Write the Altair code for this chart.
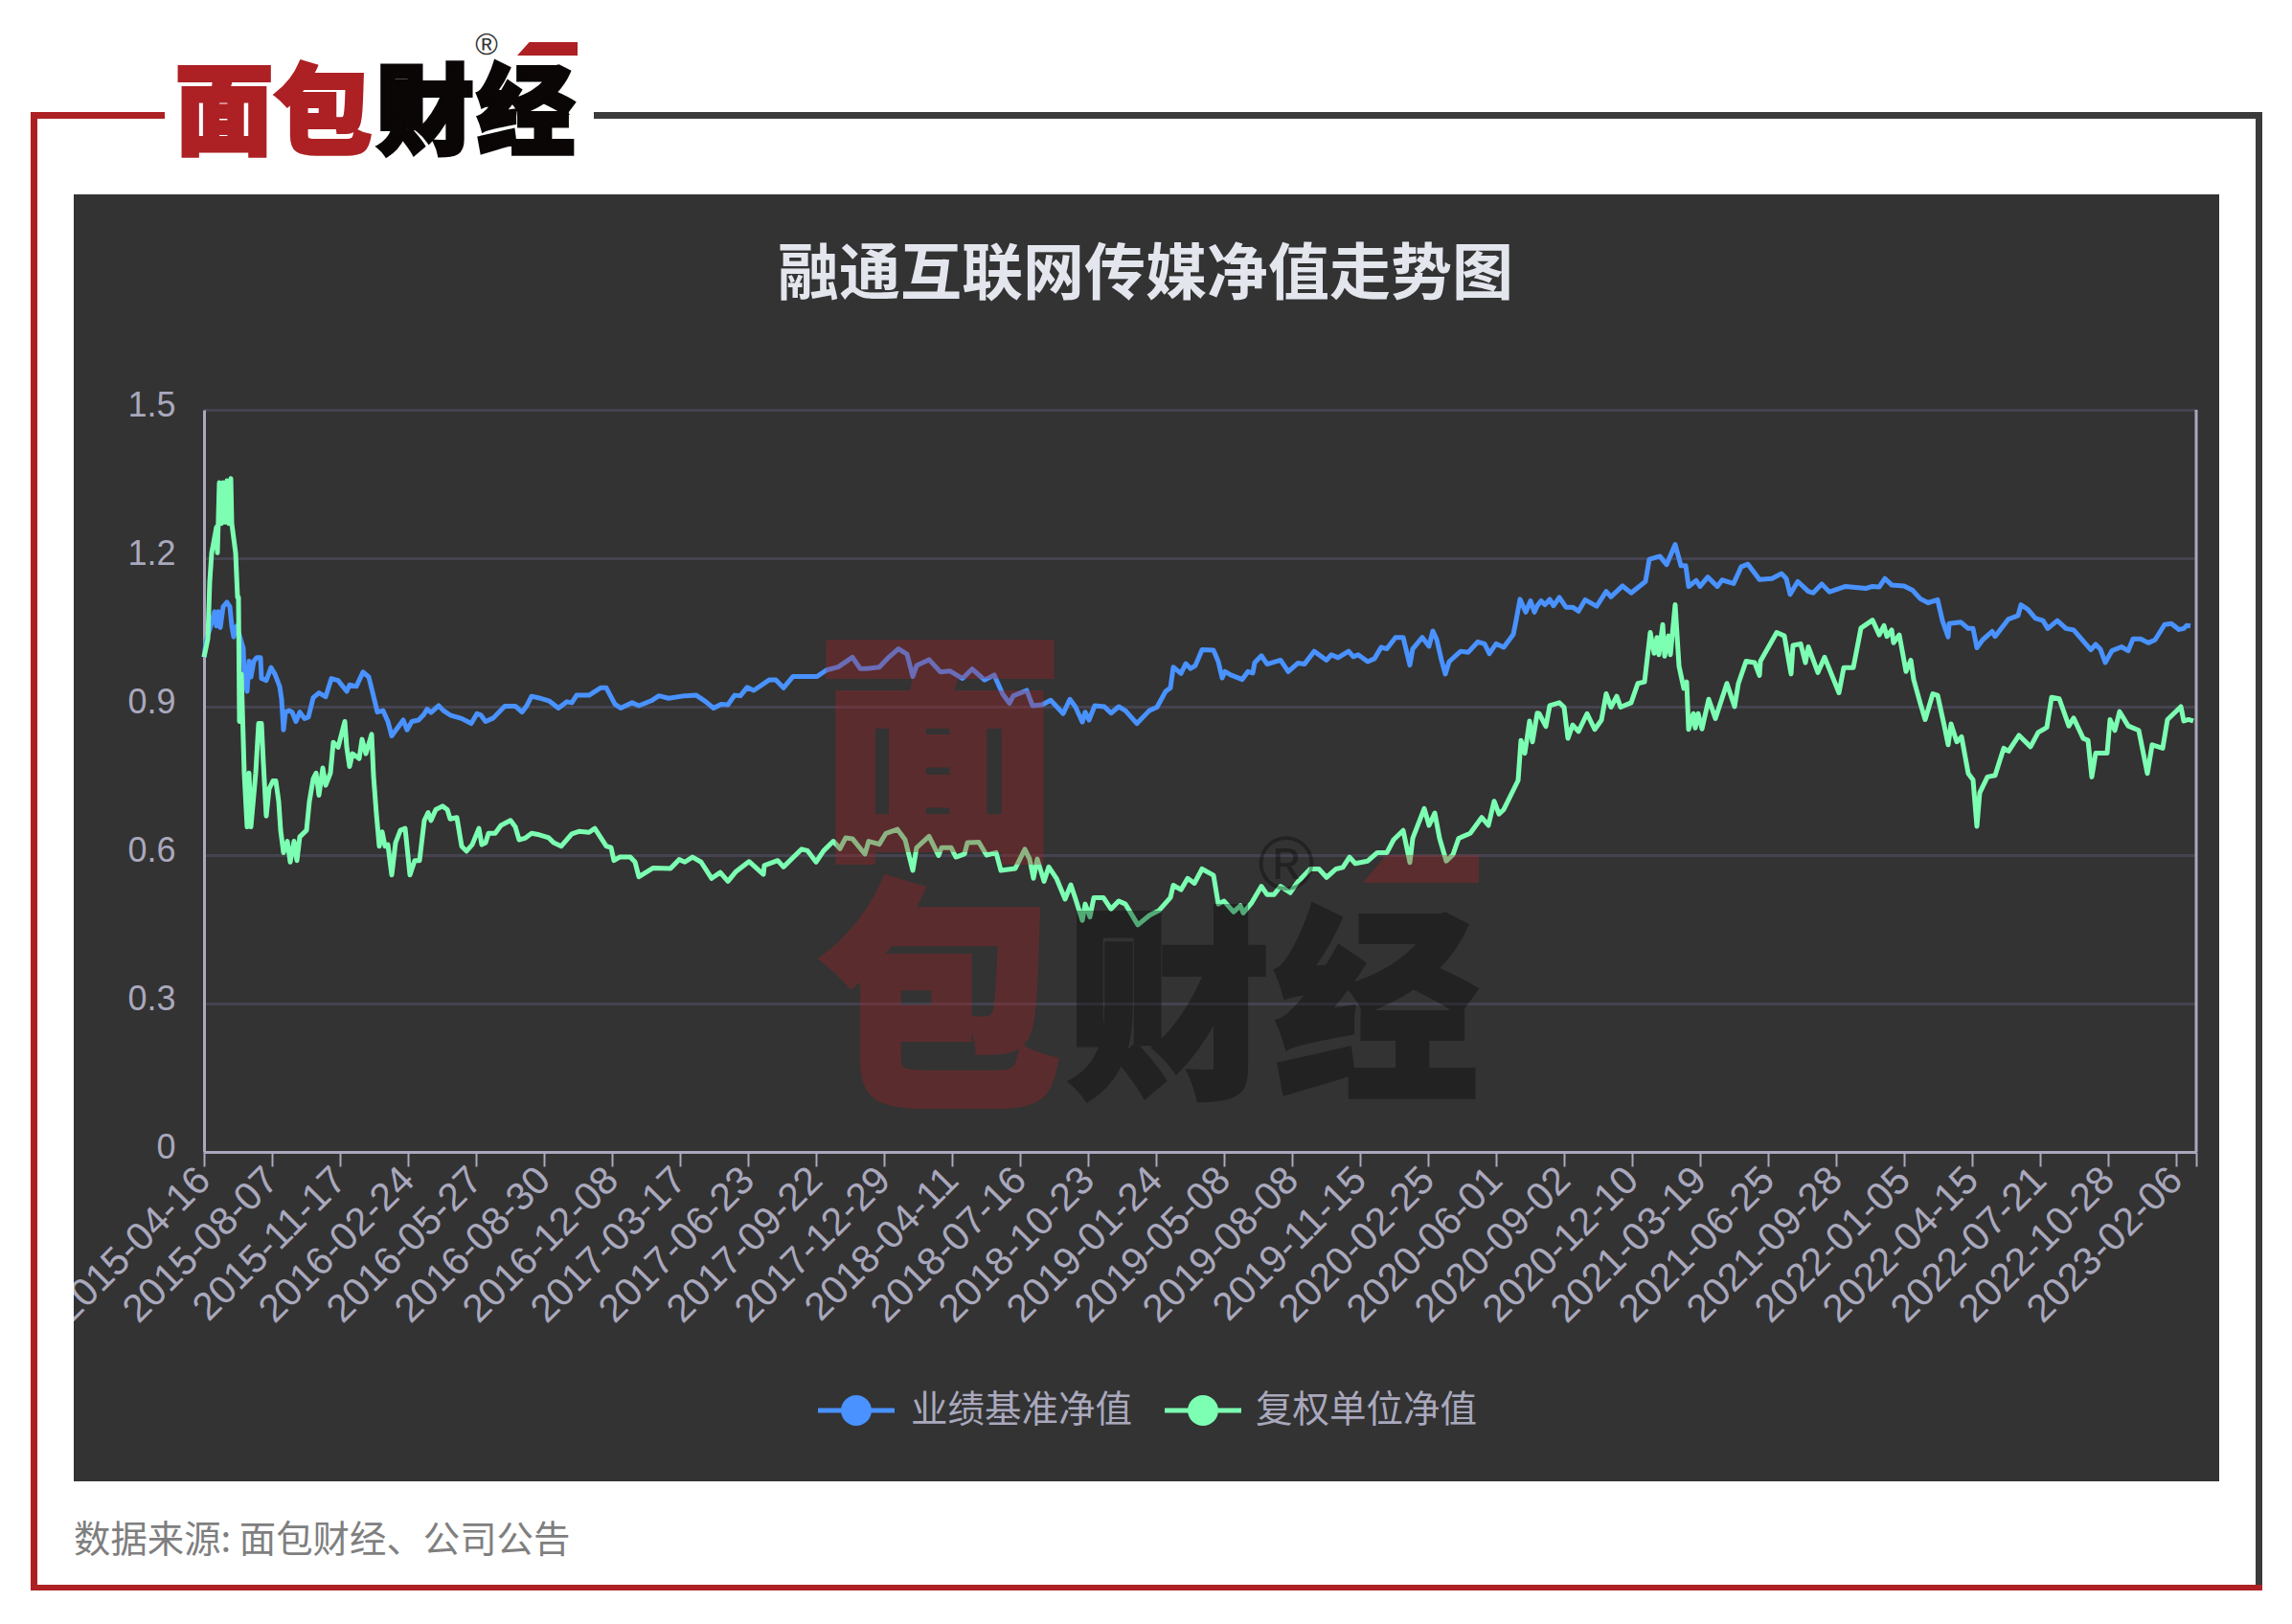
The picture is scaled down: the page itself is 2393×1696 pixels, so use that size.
import json
import altair as alt

TITLE = "融通互联网传媒净值走势图"
SOURCE = "数据来源: 面包财经、公司公告"
SERIES_NAMES = ["业绩基准净值", "复权单位净值"]
DATE_LABELS = ["2015-04-16","2015-08-07","2015-11-17","2016-02-24","2016-05-27","2016-08-30","2016-12-08",
 "2017-03-17","2017-06-23","2017-09-22","2017-12-29","2018-04-11","2018-07-16","2018-10-23","2019-01-24",
 "2019-05-08","2019-08-08","2019-11-15","2020-02-25","2020-06-01","2020-09-02","2020-12-10","2021-03-19",
 "2021-06-25","2021-09-28","2022-01-05","2022-04-15","2022-07-21","2022-10-28","2023-02-06"]
LABEL_STEP = 71
LAST_SLOT = 2080
Y_TICKS = [0, 0.3, 0.6, 0.9, 1.2, 1.5]

blue_idx = [0,2,7,11,13,15,17,20,24,27,29,31,34,37,41,42,45,47,49,52,55,59,60,65,70,74,79,81,83,85,89,92,96,100,105,109,114,120,127,133,140,149,152,159,166,172,177,181,187,192,196,202,208,212,217,224,229,233,237,245,250,257,269,279,285,289,294,302,314,325,332,337,342,
 349,360,370,379,384,389,402,414,420,429,435,447,454,467,475,485,502,514,524,532,540,547,554,560,567,574,590,597,605,615,640,650,662,677,685,692,
 705,715,725,734,740,744,757,769,779,792,802,815,825,834,841,845,859,865,875,884,897,904,910,917,920,924,930,940,947,955,962,974,987,995,1004,1009,1012,1020,1025,1030,1035,1042,
 1054,1059,1063,1066,1072,1084,1090,1095,1097,1104,1110,1124,1132,1142,1149,1159,1172,1177,1184,1195,1200,1205,1215,1222,1229,1235,1244,1252,1259,1262,1272,1279,1283,1287,1292,1296,1300,1312,1320,1330,1337,1342,1349,1357,1367,1370,1374,1380,1385,1389,1392,
 1396,1400,1405,1409,1415,1422,1429,1435,1442,1454,1464,1469,1481,1490,1505,1509,1520,1527,1536,1542,1547,1550,1558,1562,1570,1580,1585,1597,1605,1612,1624,1637,1647,1652,1656,1664,1675,1680,1689,1697,1714,1735,1742,
 1749,1755,1762,1775,1784,1792,1800,1810,1815,1821,1822,1834,1842,1847,1851,1857,1867,1870,1884,1894,1897,1904,1912,1920,1925,1935,1944,1952,1970,1975,1980,1985,1992,2002,2009,2014,2022,2030,2037,2047,2054,2062,2067,2070,2074]
blue_val = [1.0,1.031,1.063,1.092,1.063,1.092,1.060,1.102,1.111,1.102,1.063,1.041,1.063,1.044,1.018,0.966,0.931,0.992,0.960,0.992,0.999,0.999,0.957,0.953,0.979,0.966,0.941,0.915,0.853,0.889,0.892,0.889,0.870,0.889,0.876,0.879,0.918,0.928,0.920,0.957,0.953,0.931,0.944,0.941,0.970,0.960,0.921,0.889,0.892,0.870,0.841,0.857,0.873,0.853,0.870,0.873,0.883,0.895,0.888,0.902,0.892,0.883,0.876,0.866,0.886,0.883,0.870,0.877,0.901,0.901,0.889,0.902,0.921,
 0.918,0.912,0.897,0.910,0.908,0.923,0.923,0.938,0.938,0.905,0.897,0.908,0.902,0.912,0.922,0.917,0.922,0.923,0.910,0.897,0.905,0.904,0.923,0.922,0.939,0.933,0.954,0.954,0.938,0.961,0.961,0.974,0.980,1.000,0.977,0.977,
 0.980,1.000,1.017,1.006,0.961,0.983,0.995,0.970,0.972,0.957,0.976,0.954,0.964,0.925,0.907,0.922,0.933,0.902,0.904,0.913,0.886,0.915,0.899,0.869,0.889,0.873,0.902,0.900,0.887,0.900,0.892,0.866,0.892,0.899,0.931,0.938,0.980,0.967,0.987,0.977,0.983,1.015,
 1.014,0.991,0.958,0.971,0.964,0.955,0.971,0.968,0.989,1.003,0.986,0.994,0.971,0.988,0.986,1.012,0.994,1.005,0.999,1.012,1.001,1.005,0.991,0.997,1.020,1.017,1.040,1.040,0.984,1.017,1.040,1.022,1.053,1.036,0.994,0.966,0.991,1.012,1.010,1.031,1.027,1.007,1.027,1.020,1.046,1.075,1.117,1.091,1.114,1.091,1.104,
 1.114,1.106,1.117,1.104,1.121,1.101,1.101,1.093,1.116,1.103,1.133,1.122,1.144,1.130,1.153,1.198,1.204,1.187,1.228,1.185,1.185,1.143,1.155,1.143,1.162,1.143,1.156,1.149,1.183,1.188,1.157,1.159,1.169,1.159,1.127,1.153,1.133,1.130,1.148,1.132,1.143,1.139,1.143,
 1.142,1.159,1.146,1.144,1.135,1.118,1.110,1.116,1.074,1.041,1.068,1.071,1.058,1.058,1.019,1.035,1.052,1.042,1.077,1.084,1.106,1.097,1.079,1.074,1.058,1.074,1.058,1.055,1.015,1.026,1.016,0.989,1.013,1.021,1.013,1.037,1.037,1.029,1.035,1.066,1.068,1.056,1.058,1.064,1.063]

green_idx = [0,4,6,8,10,13,14,16,18,20,22,24,26,28,29,33,35,36,37,39,42,45,47,49,54,57,60,62,65,68,72,75,78,80,83,87,90,94,97,100,107,110,114,117,120,124,127,132,135,140,147,149,152,155,162,165,169,175,177,180,183,186,189,192,196,200,205,210,215,220,225,230,234,237,242,249,254,257,264,269,274,280,287,290,294,297,304,310,320,325,329,335,342,
 350,360,365,373,384,392,402,408,420,425,428,434,445,450,454,469,487,496,502,510,519,530,539,547,555,569,584,585,599,605,624,630,639,647,657,664,670,677,690,
 694,705,712,724,732,740,744,757,767,770,780,785,794,797,809,817,827,832,847,857,862,866,870,877,882,890,899,905,910,917,920,925,929,939,947,955,962,975,987,997,1009,1012,1020,1027,1034,1042,
 1054,1059,1065,1075,1082,1085,1094,1104,1110,1117,1124,1134,1142,1155,1164,1172,1182,1189,1196,1202,1215,1225,1235,1242,1252,1259,1262,1274,1279,1285,1290,1297,1304,1310,1322,1334,1341,1347,1352,1357,1372,1375,1379,1384,1387,1392,
 1394,1401,1405,1415,1420,1424,1429,1435,1444,1452,1459,1464,1469,1475,1479,1490,1497,1504,1510,1514,1517,1519,1523,1525,1529,1531,1536,1540,1545,1548,1550,1555,1557,1560,1564,1571,1578,1590,1598,1602,1610,1619,1624,1625,1642,1650,1657,1659,1667,1672,1675,1685,1692,1707,1712,1722,1730,1742,
 1749,1754,1757,1762,1764,1770,1777,1782,1785,1792,1797,1805,1810,1817,1821,1824,1830,1835,1842,1847,1851,1854,1862,1870,1879,1884,1895,1907,1915,1924,1929,1937,1947,1952,1962,1967,1971,1975,1987,1990,1995,2000,2009,2020,2029,2034,2045,2050,2064,2067,2072,2077]
green_val = [1.0,1.037,1.153,1.211,1.231,1.263,1.211,1.353,1.270,1.353,1.273,1.357,1.270,1.361,1.270,1.211,1.121,1.121,0.870,0.966,0.766,0.657,0.766,0.657,0.766,0.866,0.866,0.786,0.679,0.734,0.750,0.750,0.708,0.650,0.605,0.628,0.586,0.628,0.589,0.637,0.650,0.708,0.754,0.766,0.721,0.776,0.741,0.766,0.828,0.818,0.870,0.818,0.779,0.805,0.795,0.834,0.805,0.844,0.760,0.683,0.618,0.647,0.618,0.621,0.560,0.625,0.650,0.654,0.560,0.589,0.589,0.670,0.686,0.670,0.692,0.699,0.692,0.673,0.676,0.618,0.608,0.621,0.654,0.621,0.625,0.644,0.644,0.660,0.670,0.657,0.631,0.634,0.644,
 0.641,0.635,0.625,0.618,0.643,0.648,0.646,0.654,0.618,0.615,0.589,0.596,0.596,0.586,0.556,0.574,0.573,0.591,0.586,0.596,0.586,0.553,0.565,0.547,0.566,0.587,0.561,0.579,0.589,0.576,0.612,0.609,0.586,0.609,0.628,0.613,0.635,0.633,0.602,
 0.628,0.622,0.644,0.652,0.631,0.569,0.615,0.638,0.599,0.615,0.615,0.596,0.602,0.625,0.626,0.600,0.605,0.569,0.573,0.612,0.592,0.553,0.592,0.547,0.576,0.553,0.511,0.540,0.511,0.468,0.501,0.475,0.514,0.514,0.491,0.507,0.501,0.459,0.478,0.488,0.514,0.539,0.530,0.553,0.543,0.572,
 0.559,0.501,0.507,0.485,0.498,0.483,0.504,0.537,0.520,0.520,0.537,0.524,0.546,0.572,0.572,0.555,0.572,0.575,0.596,0.583,0.588,0.605,0.605,0.631,0.650,0.585,0.634,0.694,0.660,0.685,0.634,0.588,0.601,0.634,0.644,0.676,0.660,0.709,0.683,0.692,0.751,0.832,0.806,0.871,0.829,0.887,
 0.886,0.860,0.902,0.908,0.899,0.836,0.863,0.850,0.886,0.854,0.873,0.926,0.899,0.921,0.899,0.908,0.947,0.950,1.050,1.008,1.040,1.005,1.066,1.002,1.043,1.005,1.106,0.982,0.937,0.950,0.854,0.886,0.857,0.886,0.855,0.915,0.876,0.947,0.900,0.947,0.992,0.989,0.963,0.992,1.050,1.043,0.966,1.024,1.027,0.989,1.021,0.969,1.000,0.928,0.979,0.979,1.059,1.075,
 1.045,1.064,1.042,1.055,1.029,1.045,0.971,0.994,0.955,0.906,0.874,0.926,0.923,0.861,0.823,0.865,0.829,0.839,0.765,0.752,0.658,0.726,0.758,0.761,0.816,0.810,0.842,0.819,0.848,0.858,0.919,0.916,0.861,0.877,0.836,0.832,0.758,0.806,0.806,0.874,0.852,0.890,0.861,0.852,0.765,0.823,0.816,0.874,0.900,0.871,0.874,0.871]

CJK = "Noto Sans CJK SC"
LATIN = "Liberation Sans"
BLUE, GREEN = "#4992FF", "#7CFFB2"
AXIS_COL = "#A9A8BD"
GRID_COL = "#45434F"
RED = "#AD2024"
OX, OY = 213, 428   # page position of the plot area's top-left corner


def rows(**cols):
    keys = list(cols)
    return alt.Data(values=[dict(zip(keys, v)) for v in zip(*cols.values())])


def txt(s, x, y, size, color, font=CJK, weight="normal", align="center", opacity=1.0, stroke=None, sw=0):
    kw = dict(align=align, baseline="middle", font=font, fontSize=size, fontWeight=weight,
              color=color, opacity=opacity, x=x - OX, y=y - OY)
    if stroke:
        kw.update(stroke=stroke, strokeWidth=sw)
    return alt.Chart(rows(t=[s])).mark_text(**kw).encode(text="t:N")


def box(x0, y0, x1, y1, color, opacity=1.0):
    return alt.Chart(rows(a=[1])).mark_rect(color=color, opacity=opacity).encode(
        x=alt.value(x0 - OX), x2=alt.value(x1 - OX), y=alt.value(y0 - OY), y2=alt.value(y1 - OY))


def slant(cx, cy, half, path, color, opacity=1.0):
    return alt.Chart(rows(a=[1])).mark_point(
        shape=path, filled=True, color=color, opacity=opacity, size=(2 * half) ** 2, strokeWidth=0,
        x=cx - OX, y=cy - OY).encode(detail="a:N")


x_enc = alt.X("idx:Q", title=None,
    scale=alt.Scale(domain=[0, LAST_SLOT], nice=False, zero=False),
    axis=alt.Axis(values=[LABEL_STEP * i for i in range(len(DATE_LABELS))] + [LAST_SLOT],
        labelExpr=json.dumps(DATE_LABELS) + "[datum.value/%d] || ''" % LABEL_STEP,
        labelAngle=315, labelAlign="right", labelBaseline="middle", labelFontSize=41, labelFont=LATIN,
        labelColor=AXIS_COL, labelPadding=8, labelOverlap=False, labelFlush=False, labelBound=False,
        labelLimit=600,
        tickColor=AXIS_COL, tickSize=15, tickWidth=2, domainColor=AXIS_COL, domainWidth=3, grid=False))
y_enc = alt.Y("v:Q", title=None,
    scale=alt.Scale(domain=[0, 1.5], nice=False),
    axis=alt.Axis(values=Y_TICKS, format=".1~f", labelFontSize=36, labelFont=LATIN, labelColor=AXIS_COL,
        labelPadding=30, labelOffset=-5, ticks=False, domainColor=AXIS_COL, domainWidth=3,
        grid=True, gridColor=GRID_COL, gridWidth=3))


def series(ix, vals, color):
    return alt.Chart(rows(idx=ix, v=vals)).mark_line(
        color=color, strokeWidth=5, strokeJoin="round", clip=False).encode(x=x_enc, y=y_enc)


right_edge = alt.Chart(rows(idx=[LAST_SLOT], v=[0], hi=[1.5])).mark_rule(color=AXIS_COL, strokeWidth=3).encode(
    x=x_enc, y=y_enc, y2="hi:Q")

bands = [box(0, 0, 2393, 203, "#FFFFFF"), box(0, 0, 77, 1696, "#FFFFFF"),
         box(2317, 0, 2393, 1696, "#FFFFFF"), box(0, 1547, 2393, 1696, "#FFFFFF")]
frame = [box(32, 117, 172, 124, RED), box(32, 117, 39, 1661, RED), box(32, 1655, 2362, 1661, RED),
         box(620, 117, 2362, 124, "#3A3A3A"), box(2355, 117, 2362, 1655, "#3A3A3A")]

PATH = "M-1,0.22 L-0.6,-0.22 L1,-0.22 L1,0.22 Z"
logo = [txt("面", 234, 122, 102, RED, weight=900, stroke=RED, sw=4),
        txt("包", 337, 122, 102, RED, weight=900, stroke=RED, sw=4),
        txt("财", 444, 122, 102, "#0A0606", weight=900, stroke="#0A0606", sw=4),
        txt("经", 549, 122, 102, "#0A0606", weight=900, stroke="#0A0606", sw=4),
        txt("®", 508, 47, 32, "#333333", font=LATIN),
        slant(571.5, 51, 31.5, PATH, RED)]
WM = 0.33
mark = [txt("面", 981, 800, 254, RED, weight=900, opacity=WM, stroke=RED, sw=6),
        txt("包", 981, 1060, 254, RED, weight=900, opacity=WM, stroke=RED, sw=6),
        txt("财", 1220, 1065, 214, "#000000", weight=900, opacity=WM, stroke="#000000", sw=4),
        txt("经", 1437, 1065, 214, "#000000", weight=900, opacity=WM, stroke="#000000", sw=4),
        txt("®", 1343, 905, 80, "#000000", font=LATIN, opacity=WM),
        slant(1483.5, 907.5, 60.5, "M-1,0.24 L-0.6,-0.24 L1,-0.24 L1,0.24 Z", RED, WM)]

legend = []
for name, color, x0, x1, cx, tx in [(SERIES_NAMES[0], BLUE, 854, 934, 894, 951),
                                    (SERIES_NAMES[1], GREEN, 1216, 1296, 1256, 1311)]:
    legend.append(box(x0, 1470.5, x1, 1475.5, color))
    legend.append(alt.Chart(rows(a=[1])).mark_point(shape="circle", filled=True, color=color, opacity=1,
        size=1017, x=cx - OX, y=1473 - OY).encode(detail="a:N"))
    legend.append(txt(name, tx, 1473, 38.5, AXIS_COL, align="left"))

chart = alt.layer(
    *bands, *frame, *logo,
    txt(TITLE, 1196, 288, 64, "#E4E6EE", weight="bold"),
    txt(SOURCE, 77, 1609, 38.4, "#7F7F7F", align="left"),
    right_edge,
    series(blue_idx, blue_val, BLUE),
    series(green_idx, green_val, GREEN),
    *legend, *mark,
).properties(
    width=LAST_SLOT, height=775,
    padding={"left": OX - 8, "top": OY - 8, "right": 2377 - (OX - 8) - LAST_SLOT, "bottom": 470},
    autosize=alt.AutoSizeParams(type="none"),
    background="#333333",
).configure_view(stroke=None)

chart.save("out.html", embed_options={"renderer": "svg", "actions": False})
